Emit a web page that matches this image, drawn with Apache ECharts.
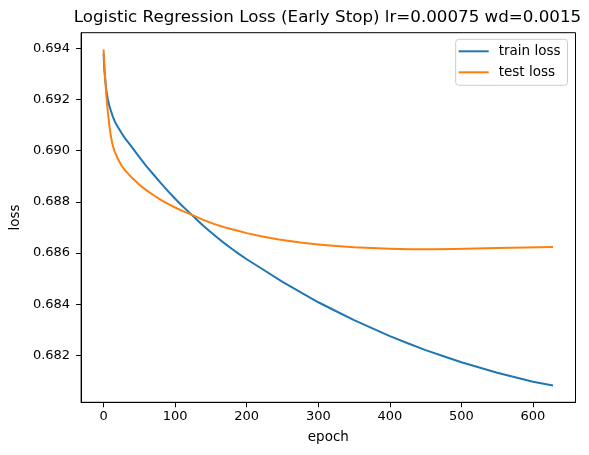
<!DOCTYPE html>
<html>
<head>
<meta charset="utf-8">
<script src="https://cdn.jsdelivr.net/npm/echarts@6/dist/echarts.min.js"></script>
<style>
html,body{margin:0;padding:0;background:#fff;}
#chart{width:589px;height:455px;}
</style>
</head>
<body>
<div id="chart"></div>
<script>
// Data
var trainEpochs = [0, 1, 2, 4, 6, 8, 10, 13, 16, 20, 25, 30, 35, 40, 50, 60, 70, 80, 90, 100, 110, 120, 130, 140, 150, 160, 170, 180, 190, 200, 225, 250, 275, 300, 325, 350, 375, 400, 425, 450, 475, 500, 525, 550, 575, 600, 628];
var trainLoss = [0.69378, 0.69320, 0.69285, 0.69232, 0.69200, 0.69176, 0.69158, 0.69132, 0.69112, 0.69092, 0.69069, 0.69048, 0.69030, 0.69012, 0.68975, 0.68939, 0.68906, 0.68873, 0.68842, 0.68812, 0.68784, 0.68758, 0.68731, 0.68705, 0.68681, 0.68658, 0.68636, 0.68615, 0.68595, 0.68576, 0.68532, 0.68488, 0.68448, 0.68408, 0.68373, 0.68338, 0.68307, 0.68276, 0.68248, 0.68221, 0.68197, 0.68174, 0.68153, 0.68133, 0.68115, 0.68098, 0.68083];
var testEpochs = [0, 1, 2, 4, 6, 8, 10, 12, 15, 20, 25, 30, 40, 50, 60, 70, 80, 90, 100, 110, 125, 140, 155, 170, 185, 200, 220, 245, 275, 300, 325, 350, 375, 400, 430, 460, 490, 520, 550, 590, 628];
var testLoss = [0.69395, 0.69340, 0.69290, 0.69210, 0.69150, 0.69100, 0.69060, 0.69030, 0.69000, 0.68967, 0.68942, 0.68923, 0.68893, 0.68867, 0.68845, 0.68826, 0.68808, 0.68792, 0.68778, 0.68765, 0.68747, 0.68729, 0.68713, 0.68700, 0.68689, 0.68678, 0.68666, 0.68653, 0.68641, 0.68634, 0.68628, 0.68623, 0.68620, 0.68617, 0.68615, 0.68615, 0.68616, 0.68618, 0.68620, 0.68622, 0.68624];
var xTicks = [0, 100, 200, 300, 400, 500, 600];
var yTicks = [0.682, 0.684, 0.686, 0.688, 0.690, 0.692, 0.694];
var seriesNames = ['train loss', 'test loss'];
var titleText = 'Logistic Regression Loss (Early Stop) lr=0.00075 wd=0.0015';

function pairs(xs, ys) { return xs.map(function (x, i) { return [x, ys[i]]; }); }

var font = 'DejaVu Sans';
var chart = echarts.init(document.getElementById('chart'), null, {renderer: 'canvas'});
chart.setOption({
  animation: false,
  backgroundColor: '#fff',
  color: ['#1f77b4', '#ff7f0e'],
  title: {
    text: titleText,
    left: 327.5,
    top: 9,
    padding: 0,
    textAlign: 'center',
    textStyle: {fontFamily: font, fontSize: 16.7, fontWeight: 'normal', color: '#000'}
  },
  legend: {
    orient: 'vertical',
    left: 455.7,
    top: 39.3,
    padding: [4, 7, 5, 3],
    itemGap: 5,
    itemWidth: 30,
    itemHeight: 2,
    icon: 'rect',
    borderColor: '#cccccc',
    borderWidth: 1,
    borderRadius: 3,
    backgroundColor: '#fff',
    data: seriesNames,
    textStyle: {fontFamily: font, fontSize: 13.5, color: '#000', lineHeight: 16, padding: [0, 0, 0, 5]}
  },
  grid: {
    left: 79.5, right: 13.5, top: 32.7, bottom: 52.7,
    show: true, borderColor: '#000', borderWidth: 1, backgroundColor: '#fff',
    containLabel: false
  },
  xAxis: {
    type: 'value',
    min: -31.4, max: 659.4,
    name: 'epoch',
    nameLocation: 'middle',
    nameGap: 28,
    nameTextStyle: {fontFamily: font, fontSize: 13.5, color: '#000'},
    axisLine: {show: true, onZero: false, lineStyle: {color: '#000', width: 1}},
    axisTick: {show: true, length: 5, inside: false, customValues: xTicks, lineStyle: {color: '#000'}},
    axisLabel: {customValues: xTicks, margin: 8, fontFamily: font, fontSize: 13, color: '#000'},
    splitLine: {show: false}
  },
  yAxis: {
    type: 'value',
    min: 0.680174, max: 0.694606,
    name: 'loss',
    nameLocation: 'middle',
    nameGap: 58,
    nameTextStyle: {fontFamily: font, fontSize: 13.5, color: '#000'},
    axisLine: {show: true, onZero: false, lineStyle: {color: '#000', width: 1}},
    axisTick: {show: true, length: 5, inside: false, customValues: yTicks, lineStyle: {color: '#000'}},
    axisLabel: {customValues: yTicks, margin: 11, fontFamily: font, fontSize: 13, color: '#000',
      formatter: function (v) { return v.toFixed(3); }},
    splitLine: {show: false}
  },
  series: [
    {name: seriesNames[0], type: 'line', data: pairs(trainEpochs, trainLoss), showSymbol: false, symbol: 'none',
     smooth: false, lineStyle: {width: 2, color: '#1f77b4', join: 'round'}, itemStyle: {color: '#1f77b4'}},
    {name: seriesNames[1], type: 'line', data: pairs(testEpochs, testLoss), showSymbol: false, symbol: 'none',
     smooth: false, lineStyle: {width: 2, color: '#ff7f0e', join: 'round'}, itemStyle: {color: '#ff7f0e'}}
  ]
});
</script>
</body>
</html>
